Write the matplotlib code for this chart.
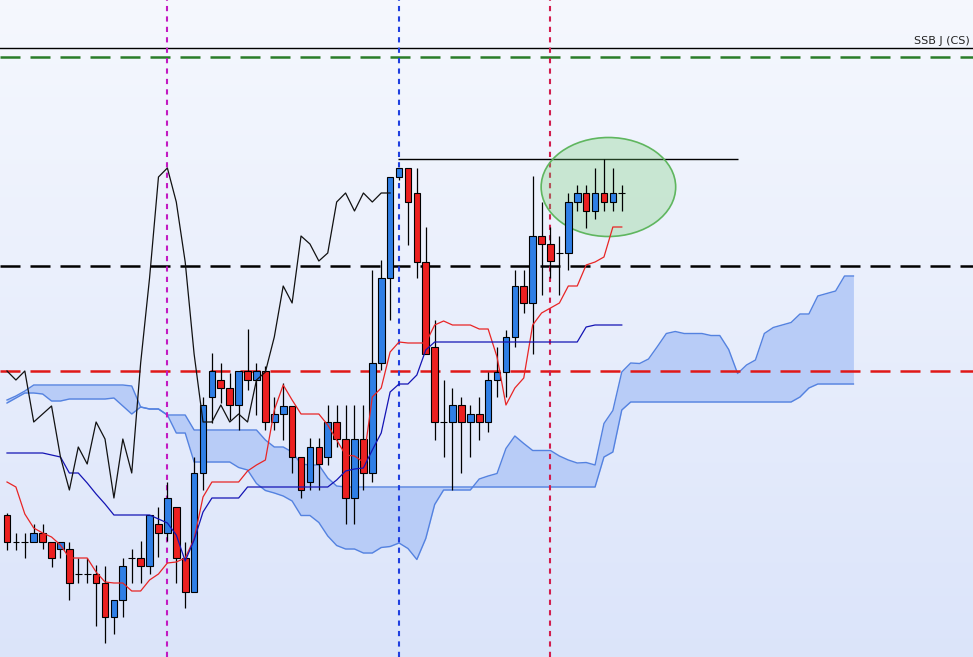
import numpy as np
import matplotlib
import matplotlib.pyplot as plt
from matplotlib.patches import Ellipse
matplotlib.use('agg')

# candle data (index 0..69), price units
opens = [142, 115, 115, 115, 124, 115, 108, 108, 83, 83,
         83, 74, 40, 57, 99, 99, 91, 133, 124, 150,
         99, 65, 184, 260, 277, 269, 252, 286, 277, 286,
         235, 243, 251, 200, 175, 210, 200, 235, 218, 159,
         218, 184, 294, 379, 480, 489, 464, 395, 310, 235,
         235, 252, 235, 243, 235, 277, 285, 320, 371, 354,
         421, 413, 404, 404, 455, 464, 446, 464, 455, 464]
highs = [144, 124, 124, 133, 133, 115, 115, 115, 99, 99,
         92, 91, 57, 99, 108, 116, 142, 150, 175, 150,
         115, 200, 260, 304, 294, 284, 286, 328, 294, 291,
         260, 274, 251, 200, 219, 219, 252, 252, 252, 252,
         252, 387, 397, 480, 489, 489, 489, 430, 337, 277,
         269, 260, 252, 260, 285, 310, 327, 387, 387, 481,
         455, 430, 421, 464, 472, 472, 489, 498, 489, 472]
lows = [107, 107, 99, 115, 108, 90, 99, 57, 74, 74,
        31, 14, 23, 40, 74, 74, 83, 100, 116, 74,
        49, 65, 167, 234, 254, 237, 227, 267, 242, 227,
        227, 217, 184, 159, 167, 167, 192, 210, 133, 133,
        167, 175, 287, 337, 477, 412, 379, 303, 217, 200,
        167, 184, 200, 217, 225, 260, 260, 310, 344, 303,
        362, 379, 362, 387, 446, 429, 438, 446, 446, 446]
closes = [115, 115, 115, 124, 115, 99, 115, 74, 83, 83,
          74, 40, 57, 91, 99, 91, 142, 124, 159, 99,
          65, 184, 252, 286, 269, 252, 286, 277, 286, 235,
          243, 251, 200, 167, 210, 193, 235, 218, 159, 218,
          184, 294, 379, 480, 489, 455, 395, 303, 235, 235,
          252, 235, 243, 235, 277, 285, 320, 371, 354, 421,
          413, 396, 404, 455, 464, 446, 464, 455, 464, 464]

tenkan = [175, 170, 143, 129, 124, 120, 112, 99, 99, 99,
          85, 75, 74, 74, 66, 66, 77, 83, 94, 95,
          99, 118, 160, 175, 175, 175, 175, 186, 192, 197,
          247, 272, 257, 243, 243, 243, 232, 217, 202, 201,
          195, 260, 269, 305, 315, 314, 314, 314, 332, 336,
          332, 332, 332, 328, 328, 300, 252, 269, 279, 332,
          344, 349, 354, 371, 371, 392, 395, 400, 430, 430]
kijun = [204, 204, 204, 204, 204, 202, 200, 184, 184, 174,
         163, 153, 142, 142, 142, 142, 142, 138, 134, 122,
         96, 117, 145, 159, 159, 159, 159, 170, 170, 170,
         170, 170, 170, 170, 170, 170, 170, 177, 186, 188,
         189, 207, 224, 265, 273, 273, 282, 307, 315, 315,
         315, 315, 315, 315, 315, 315, 315, 315, 315, 315,
         315, 315, 315, 315, 315, 330, 332, 332, 332, 332]

# cloud, index 0..95 (26 bars ahead of the last candle)
span_a = [254, 259, 264, 264, 263, 256, 256, 258, 258, 258,
          258, 258, 259, 251, 243, 250, 248, 248, 242, 224,
          224, 195, 195, 195, 195, 195, 189.5, 187, 173.5, 166.5,
          164, 161, 156, 141.5, 141.5, 134.5, 121, 111.5, 108, 108,
          104, 104, 109.5, 110.5, 114, 108.5, 97.5, 118.5, 152.5, 167,
          167, 167, 167, 178, 181, 183.5, 208.5, 221, 213.5, 206.5,
          206.5, 206.5, 201, 197, 194, 194.5, 192, 233.5, 246.5, 285,
          294, 293.5, 298, 310.5, 323.5, 325.5, 323.5, 323.5, 323.5, 321.5,
          321.5, 307.5, 283.5, 292, 297, 323.5, 329.5, 332, 334.5, 343,
          343, 361, 363.5, 366, 381, 381]
span_b = [257, 261, 266, 272, 272, 272, 272, 272, 272, 272,
          272, 272, 272, 272, 271, 250, 248, 248, 242, 242,
          242, 227, 227, 227, 227, 227, 227, 227, 227, 217,
          210, 210, 205, 193, 192, 192, 179, 171, 170, 170,
          170, 170, 170, 170, 170, 170, 170, 170, 170, 170,
          170, 170, 170, 170, 170, 170, 170, 170, 170, 170,
          170, 170, 170, 170, 170, 170, 170, 200, 205, 247,
          255, 255, 255, 255, 255, 255, 255, 255, 255, 255,
          255, 255, 255, 255, 255, 255, 255, 255, 255, 260,
          269, 273, 273, 273, 273, 273]

chikou_shift = 26
levels = {'ssb': 609, 'green': 600, 'black': 391, 'red': 286, 'top': 498}
vlines_at = [(18, '#c21ac2'), (44, '#1f3fe0'), (61, '#d11d4d')]

idx = np.arange(len(closes))
cloud_idx = np.arange(len(span_a))

fig = plt.figure(figsize=(9.73, 6.57), dpi=100)
ax = fig.add_axes([0, 0, 1, 1])
xlim = (-0.786, 108.42)
ylim = (0, 657)
ax.set_xlim(*xlim)
ax.set_ylim(*ylim)
ax.axis('off')

# background gradient
grad = np.linspace(0, 1, 256).reshape(-1, 1)
top = np.array([0.962, 0.972, 0.996])
bottom = np.array([0.86, 0.895, 0.98])
img = top + (bottom - top) * grad[:, :, None]
ax.imshow(img, extent=[xlim[0], xlim[1], ylim[0], ylim[1]], aspect='auto',
          origin='upper', zorder=0)

# cloud
ax.fill_between(cloud_idx, span_a, span_b, color='#b8ccf7', lw=0, zorder=1)
ax.plot(cloud_idx, span_a, color='#5482e0', lw=1, zorder=2)
ax.plot(cloud_idx, span_b, color='#5482e0', lw=1, zorder=2)

# horizontal levels
ax.axhline(levels['ssb'], color='black', lw=1, zorder=2)
ax.axhline(levels['green'], color='#2a7d2a', lw=1.8, dashes=(8, 4), zorder=2)
ax.axhline(levels['black'], color='black', lw=1.8, dashes=(8, 4), zorder=2)
ax.axhline(levels['red'], color='#e01818', lw=1.8, dashes=(8, 4), zorder=2)
ax.hlines(levels['top'], 43.9, 82.0, color='black', lw=1, zorder=2)
ax.text(0.997, levels['ssb'] + 7, 'SSB J (CS)', transform=ax.get_yaxis_transform(),
        ha='right', va='center', fontsize=8, color='#222222')

for xv, col in vlines_at:
    ax.axvline(xv, color=col, lw=1.5, dashes=(2.5, 2.5), zorder=2)

# highlight ellipse (behind the candles)
ax.add_patch(Ellipse((67.5, 470), 15.1, 99, facecolor=(0.45, 0.8, 0.45, 0.3),
                     edgecolor='#5fb65f', lw=1.2, zorder=2.5))

# candles
ax.vlines(idx, lows, highs, color='black', lw=0.9, zorder=3)
opens_a = np.array(opens, dtype=float)
closes_a = np.array(closes, dtype=float)
up = closes_a >= opens_a
colors = np.where(up, '#2f7fe6', '#ec2020')
ax.bar(idx, np.abs(closes_a - opens_a), bottom=np.minimum(opens_a, closes_a),
       width=0.75, color=colors, edgecolor='black', linewidth=0.8, zorder=4)

# ichimoku lines
ax.plot(idx, tenkan, color='#e82525', lw=0.9, zorder=5)
ax.plot(idx, kijun, color='#1414b4', lw=0.9, zorder=5)
ax.plot(idx[chikou_shift:] - chikou_shift, closes[chikou_shift:], color='#111111',
        lw=0.9, zorder=5)

plt.savefig('out.png', dpi=100)
